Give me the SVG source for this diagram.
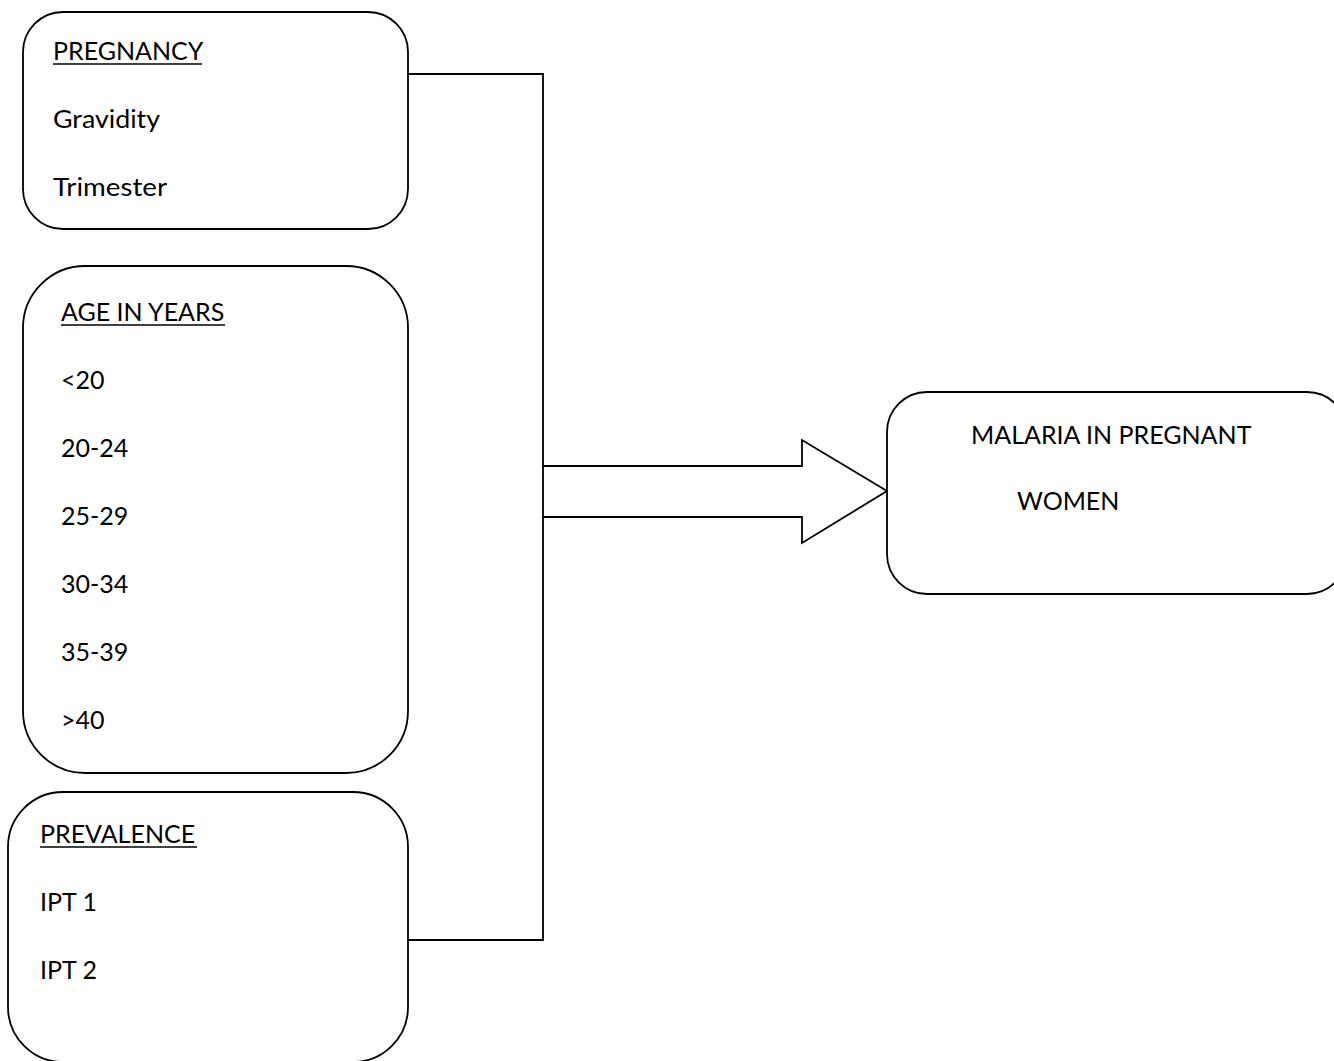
<svg xmlns="http://www.w3.org/2000/svg" width="1334" height="1061" viewBox="0 0 1334 1061">
<style>
.box{fill:#fff;stroke:#000;stroke-width:1.8}
.con{fill:none;stroke:#000;stroke-width:1.8}
text{font-family:Lato,"Open Sans","Liberation Sans",sans-serif;font-size:25px;fill:#000}
.ul{stroke:#000;stroke-width:1.6}
</style>
<rect width="1334" height="1061" fill="#fff"/>
<g id="connectors">
<polyline class="con" points="408,74 543,74 543,940 408,940"/>
<path class="con" d="M543,466 L802,466 L802,440 L887,491 L802,543 L802,517 L543,517"/>
</g>
<g id="node-pregnancy">
<rect class="box" x="23" y="12" width="385" height="217" rx="40" ry="40"/>
<text x="53" y="60">PREGNANCY</text>
<line class="ul" x1="53" y1="64" x2="202" y2="64"/>
<text x="53" y="128" textLength="107" lengthAdjust="spacingAndGlyphs">Gravidity</text>
<text x="53" y="196" textLength="114" lengthAdjust="spacingAndGlyphs">Trimester</text>
</g>
<g id="node-age">
<rect class="box" x="23" y="266" width="385" height="507" rx="62" ry="62"/>
<text x="61" y="321">AGE IN YEARS</text>
<line class="ul" x1="61" y1="325" x2="225" y2="325"/>
<text x="61" y="389">&lt;20</text>
<text x="61" y="457">20-24</text>
<text x="61" y="525">25-29</text>
<text x="61" y="593">30-34</text>
<text x="61" y="661">35-39</text>
<text x="61" y="729">&gt;40</text>
</g>
<g id="node-prevalence">
<rect class="box" x="8" y="792" width="400" height="270" rx="55" ry="55"/>
<text x="40" y="843">PREVALENCE</text>
<line class="ul" x1="40" y1="847" x2="197" y2="847"/>
<text x="40" y="911">IPT 1</text>
<text x="40" y="979">IPT 2</text>
</g>
<g id="node-malaria">
<rect class="box" x="887" y="392" width="460" height="202" rx="40" ry="40"/>
<text x="971" y="444">MALARIA IN PREGNANT</text>
<text x="1017" y="510">WOMEN</text>
</g>
</svg>
